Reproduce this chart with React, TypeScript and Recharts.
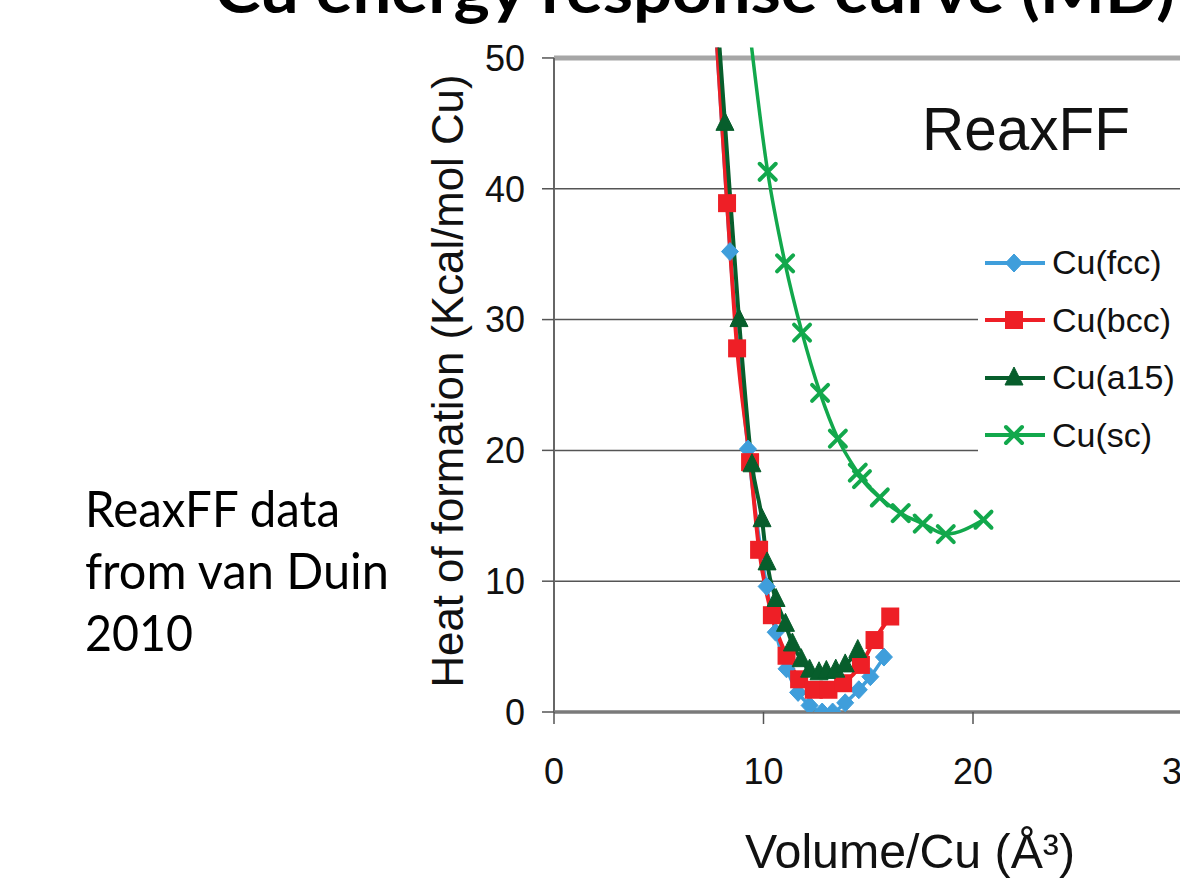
import React from 'react';
import { LineChart, Line, XAxis, YAxis, CartesianGrid, ReferenceLine, Legend } from 'recharts';

// Cu(fcc)
const fccX = [7.65, 8.4, 9.26, 10.15, 10.58, 11.1, 11.65, 12.2, 12.8, 13.3, 13.9, 14.55, 15.1, 15.75];
const fccY = [54, 35.2, 20.1, 9.6, 6.1, 3.3, 1.5, 0.5, 0.0, 0.0, 0.7, 1.7, 2.7, 4.2];
// Cu(bcc)
const bccX = [7.6, 8.26, 8.74, 9.36, 9.79, 10.4, 11.1, 11.7, 12.4, 13.1, 13.8, 14.65, 15.3, 16.05];
const bccY = [55.5, 38.9, 27.8, 19.1, 12.4, 7.4, 4.3, 2.5, 1.7, 1.7, 2.2, 3.6, 5.5, 7.3];
// Cu(a15)
const a15X = [7.7, 8.16, 8.83, 9.45, 9.93, 10.17, 10.6, 11.05, 11.38, 11.8, 12.2, 12.65, 13.0, 13.45, 13.9, 14.5];
const a15Y = [55.3, 45, 30.0, 18.9, 14.7, 11.4, 8.6, 6.7, 5.2, 4.0, 3.2, 3.0, 3.1, 3.2, 3.6, 4.7];
// Cu(sc)
const scX = [9.2, 10.2, 11.03, 11.84, 12.7, 13.55, 14.5, 14.7, 15.55, 16.55, 17.6, 18.7, 20.5];
const scY = [54, 41.3, 34.3, 29.0, 24.4, 20.9, 18.3, 17.8, 16.4, 15.2, 14.4, 13.6, 14.7];

const xTicks = [0, 10, 20, 30];
const yTicks = [0, 10, 20, 30, 40, 50];
const gridValues = [10, 20, 30, 40];

const seriesNames = ['Cu(fcc)', 'Cu(bcc)', 'Cu(a15)', 'Cu(sc)'];

const toPoints = (xs: number[], ys: number[]) => xs.map((x, i) => ({ x, y: ys[i] }));

type Shape = 'diamond' | 'square' | 'triangle' | 'cross';

const SERIES: { name: string; color: string; shape: Shape; width: number; data: { x: number; y: number }[] }[] = [
  { name: seriesNames[0], color: '#3f9edb', shape: 'diamond', width: 3.5, data: toPoints(fccX, fccY) },
  { name: seriesNames[1], color: '#ee1f26', shape: 'square', width: 4, data: toPoints(bccX, bccY) },
  { name: seriesNames[2], color: '#075e2c', shape: 'triangle', width: 4, data: toPoints(a15X, a15Y) },
  { name: seriesNames[3], color: '#12a84c', shape: 'cross', width: 3.5, data: toPoints(scX, scY) },
];

function Marker({ shape, cx, cy, color }: { shape: Shape; cx: number; cy: number; color: string }) {
  if (cx == null || cy == null || isNaN(cx) || isNaN(cy)) return null;
  if (shape === 'diamond') {
    return (
      <polygon
        points={`${cx},${cy - 9} ${cx + 8.5},${cy} ${cx},${cy + 9} ${cx - 8.5},${cy}`}
        fill={color}
        stroke={color}
        strokeWidth={1}
      />
    );
  }
  if (shape === 'square') {
    return <rect x={cx - 9} y={cy - 9} width={18} height={18} fill={color} />;
  }
  if (shape === 'triangle') {
    return (
      <polygon points={`${cx},${cy - 11} ${cx + 9},${cy + 7} ${cx - 9},${cy + 7}`} fill={color} stroke={color} strokeWidth={1} />
    );
  }
  return (
    <g stroke={color} strokeWidth={4} strokeLinecap="round">
      <line x1={cx - 8} y1={cy - 8} x2={cx + 8} y2={cy + 8} />
      <line x1={cx - 8} y1={cy + 8} x2={cx + 8} y2={cy - 8} />
    </g>
  );
}

const renderLegend = () => (
  <div style={{ background: '#fff', width: 230 }}>
    {SERIES.map((s) => (
      <div key={s.name} style={{ display: 'flex', alignItems: 'center', height: 57.5 }}>
        <svg width={74} height={30} style={{ display: 'block', flex: 'none' }}>
          <line x1={7} y1={15} x2={67} y2={15} stroke={s.color} strokeWidth={4} />
          <Marker shape={s.shape} cx={36} cy={15} color={s.color} />
        </svg>
        <span
          style={{
            fontFamily: '"Liberation Sans", Arial, sans-serif',
            fontSize: 34,
            color: '#111',
            lineHeight: '57.5px',
            whiteSpace: 'nowrap',
          }}
        >
          {s.name}
        </span>
      </div>
    ))}
  </div>
);

const tickStyle = { fontSize: 36, fill: '#111', fontFamily: '"Liberation Sans", Arial, sans-serif' };

export default function App() {
  return (
    <div
      style={{
        position: 'fixed',
        left: 0,
        top: 0,
        width: 1180,
        height: 880,
        overflow: 'hidden',
        background: '#fff',
      }}
    >
      <div style={{ position: 'absolute', left: 0, top: 0 }}>
        <LineChart width={1200} height={880} margin={{ top: 47.5, right: 17.5, bottom: 108, left: 494 }}>
          <CartesianGrid vertical={false} horizontalValues={gridValues} stroke="#555" strokeWidth={1.5} />
          <XAxis
            type="number"
            dataKey="x"
            domain={[0, 30]}
            ticks={xTicks}
            allowDataOverflow
            height={60}
            tick={tickStyle}
            tickSize={12}
            tickMargin={34}
            axisLine={{ stroke: '#7a7a7a', strokeWidth: 3.5 }}
            tickLine={{ stroke: '#555', strokeWidth: 1.5 }}
          />
          <YAxis
            type="number"
            dataKey="y"
            domain={[0, 50.8]}
            ticks={yTicks}
            allowDataOverflow
            width={60}
            tick={tickStyle}
            tickSize={12}
            tickMargin={17}
            axisLine={false}
            tickLine={{ stroke: '#555', strokeWidth: 1.5 }}
          />
          <ReferenceLine y={50} stroke="#a6a6a6" strokeWidth={5} />
          <ReferenceLine
            segment={[
              { x: 0, y: 0 },
              { x: 0, y: 50 },
            ]}
            stroke="#666"
            strokeWidth={2}
          />
          {SERIES.map((s) => (
            <Line
              key={s.name}
              name={s.name}
              data={s.data}
              dataKey="y"
              type="monotone"
              stroke={s.color}
              strokeWidth={s.width}
              isAnimationActive={false}
              activeDot={false}
              dot={(p: any) => (
                <Marker key={`${s.name}-${p.index}`} shape={s.shape} cx={p.cx} cy={p.cy} color={s.color} />
              )}
            />
          ))}
          <Legend
            layout="vertical"
            align="center"
            verticalAlign="middle"
            content={renderLegend}
            wrapperStyle={{ left: 978, top: 234, width: 230, right: 'auto', bottom: 'auto' }}
          />
        </LineChart>
      </div>
      <svg
        width={1180}
        height={880}
        style={{ position: 'absolute', left: 0, top: 0, pointerEvents: 'none' }}
      >
        <text
          x={215}
          y={13}
          fontFamily="Lato, 'Open Sans', sans-serif"
          fontWeight={700}
          fontSize={62}
          fill="#000"
          textLength={960}
          lengthAdjust="spacingAndGlyphs"
        >
          Cu energy response curve (MD)
        </text>
        <g fontFamily="Lato, 'Open Sans', sans-serif" fontSize={50} fill="#000">
          <text x={85} y={527} textLength={255} lengthAdjust="spacingAndGlyphs">
            ReaxFF data
          </text>
          <text x={85} y={589} textLength={304} lengthAdjust="spacingAndGlyphs">
            from van Duin
          </text>
          <text x={85} y={651} textLength={108} lengthAdjust="spacingAndGlyphs">
            2010
          </text>
        </g>
        <text
          x={922}
          y={150}
          fontFamily="'Liberation Sans', Arial, sans-serif"
          fontSize={62}
          fill="#111"
          textLength={208}
          lengthAdjust="spacingAndGlyphs"
        >
          ReaxFF
        </text>
        <text
          transform="translate(463,381) rotate(-90)"
          textAnchor="middle"
          fontFamily="'Liberation Sans', Arial, sans-serif"
          fontSize={44}
          fill="#111"
          textLength={613}
          lengthAdjust="spacingAndGlyphs"
        >
          Heat of formation (Kcal/mol Cu)
        </text>
        <text
          x={745}
          y={868}
          fontFamily="'Liberation Sans', Arial, sans-serif"
          fontSize={48}
          fill="#111"
          textLength={330}
          lengthAdjust="spacingAndGlyphs"
        >
          Volume/Cu (Å³)
        </text>
      </svg>
    </div>
  );
}
